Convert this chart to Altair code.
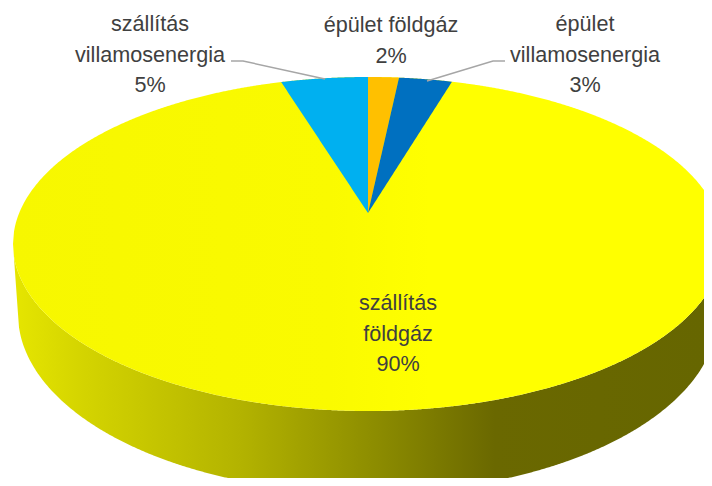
import math
import altair as alt
import pandas as pd

# ---- chart values ----
names = ["épület földgáz", "épület villamosenergia", "szállítás földgáz", "szállítás villamosenergia"]
shares = [1.76, 3.07, 90.17, 5.0]
slice_colors = ["#FFC000", "#0070C0", "#FFFF00", "#00B0F0"]
label_lines = [["épület földgáz", "2%"], ["épület", "villamosenergia", "3%"],
               ["szállítás", "földgáz", "90%"], ["szállítás", "villamosenergia", "5%"]]

# ---- layout of the tilted pie, in page pixels ----
CX, CY, A, B = 368.0, 244.0, 355.0, 167.0      # top face
AX, AY, SWEEP = 368.0, 213.0, 281.0            # perspective apex of the slices
OCY, OA, OB = 314.0, 350.0, 179.0              # lower rim
LEFT, RIGHT, TOP, BOTTOM = 8, 704, 8, 478
label_xy = [(391, 26), (585, 25), (398, 304), (150, 25)]
leaders = [[(231, 61), (243, 61), (325, 79)], [(505, 61), (493, 61), (427, 81)]]

x_scale = alt.Scale(domain=[LEFT, RIGHT], range=[0, RIGHT - LEFT], nice=False, zero=False)
y_scale = alt.Scale(domain=[BOTTOM, TOP], range=[BOTTOM - TOP, 0], nice=False, zero=False)
X = alt.X("x:Q", scale=x_scale, axis=None)
Y = alt.Y("y:Q", scale=y_scale, axis=None)


def half(x, a, b):
    return b * math.sqrt(max(0.0, 1 - ((x - CX) / a) ** 2))


def xs(lo, hi, extra=()):
    vals = {float(v) for v in extra} | {lo, hi}
    v = math.ceil(lo)
    while v < hi:
        vals.add(float(v))
        v += 1
    return sorted(vals)


def area(rows, **kw):
    return alt.Chart(pd.DataFrame(rows)).mark_area(**kw).encode(x=X, y=Y, y2="y2:Q")


# side wall
side = []
left_x, outer_left = CX - A, CX - OA
for x in xs(left_x, RIGHT, [outer_left]):
    upper = CY + half(x, A, B)
    if x < outer_left:
        lower = CY + (OCY - CY) * (x - left_x) / (outer_left - left_x)
    else:
        lower = OCY + half(x, OA, OB)
    side.append({"x": x, "y": upper, "y2": min(lower, BOTTOM)})


def stop(px, color):
    return alt.GradientStop(offset=(px - left_x) / (RIGHT - left_x), color=color)


side_stops = [(13, "#E6E600"), (83, "#D4D400"), (240, "#B3B300"), (370, "#8E8E00"),
              (495, "#6A6800"), (RIGHT, "#666600")]
side_layer = area(side, color=alt.Gradient(
    gradient="linear", x1=0, x2=1, y1=0, y2=0,
    stops=[stop(p, c) for p, c in side_stops]))

# top face: the big slice is the whole ellipse, small slices are laid on it
face = [{"x": x, "y": CY - half(x, A, B), "y2": CY + half(x, A, B)}
        for x in xs(left_x, min(RIGHT, CX + A))]
face_layer = area(face, clip=True, color=alt.Gradient(
    gradient="linear", x1=0, x2=1, y1=0, y2=0,
    stops=[stop(13, "#F7F700"), stop(330, "#FAFA00"), stop(430, "#FFFF00"), stop(RIGHT, "#FFFF00")]))


def rim(x):
    return CY - half(x, A, B)


def ray_x(share_from_top):
    return AX + SWEEP * math.sin(2 * math.pi * share_from_top / 100)


def ray_y(end_x, x):
    return AY + (rim(end_x) - AY) * (x - AX) / (end_x - AX)


def wedge(start, end, color):
    e0, e1 = ray_x(start), ray_x(end)
    far, near = (e0, e1) if abs(e0 - AX) > abs(e1 - AX) else (e1, e0)
    lo, hi = min(AX, far), max(AX, far)
    rows = []
    for x in xs(lo, hi, [near]):
        upper = rim(x)
        if abs(near - AX) > 1e-6 and min(AX, near) <= x <= max(AX, near):
            upper = max(upper, ray_y(near, x))
        lower = ray_y(far, x) if x != AX else AY
        rows.append({"x": x, "y": upper, "y2": lower})
    return area(rows, color=color)


wedges = [wedge(0, shares[0], slice_colors[0]),
          wedge(shares[0], shares[0] + shares[1], slice_colors[1]),
          wedge(-shares[3], 0, slice_colors[3])]

# leader lines
leader_layers = [
    alt.Chart(pd.DataFrame([{"x": p[0], "y": p[1], "i": i} for i, p in enumerate(pts)]))
    .mark_line(color="#A6A6A6", strokeWidth=1.5)
    .encode(x=X, y=Y, order="i:Q")
    for pts in leaders
]

# labels
label_rows = [{"x": xy[0], "y": xy[1], "t": lines}
              for xy, lines in zip(label_xy, label_lines)]
labels = alt.Chart(alt.Data(values=label_rows)).mark_text(
    font="Liberation Sans", fontSize=21.6, color="#404040",
    align="center", baseline="middle", lineHeight=30.5,
).encode(x=X, y=Y, text="t:N")

chart = alt.layer(side_layer, face_layer, *wedges, *leader_layers, labels).properties(
    width=RIGHT - LEFT, height=BOTTOM - TOP,
    autosize=alt.AutoSizeParams(type="none"), padding=0,
).configure_view(stroke=None)

chart.save("out.html", embed_options={"renderer": "svg", "actions": False})
